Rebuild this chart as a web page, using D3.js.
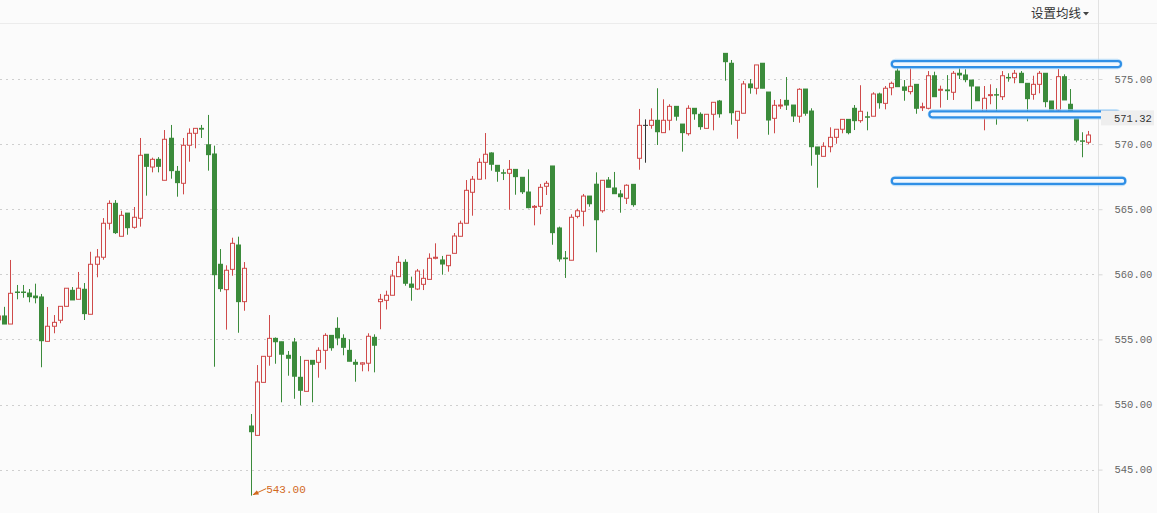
<!DOCTYPE html>
<html><head><meta charset="utf-8">
<script src="https://cdn.jsdelivr.net/npm/d3@7"></script>
<style>html,body{margin:0;padding:0;background:#fbfbfb;overflow:hidden}</style>
</head><body><svg id="c" width="1157" height="513"></svg>
<script>
const opens = [556.5,556.8,556.18,558.64,558.64,558.56,558.33,558.26,554.85,556.01,556.47,557.54,558.77,558.08,558.85,556.93,560.77,561.31,563.92,565.45,562.92,564.7,563.61,564.3,569.22,568.24,568.83,567.22,570.45,567.91,566.99,569.91,570.83,571.21,569.95,569.24,560.77,558.82,560.38,562.25,557.9,548.35,547.63,551.7,553.7,555.08,554.82,553.78,554.8,552.09,551.01,553.39,553.24,554.16,555.31,555.85,555.08,554.16,553.24,553.1,553.17,555.16,557.9,558.0,558.39,559.82,560.92,559.25,558.87,559.23,559.61,561.23,561.1,560.66,561.61,562.92,563.92,566.3,567.3,568.6,569.32,568.37,567.8,567.76,568.06,567.45,566.32,565.18,565.22,566.76,568.32,563.56,561.25,561.08,564.45,564.84,566.01,566.92,564.88,567.24,566.63,566.17,565.84,566.91,568.91,571.44,571.44,571.83,570.88,571.83,572.9,571.54,570.8,572.75,572.29,571.21,572.29,573.31,576.97,576.21,571.83,572.37,574.62,574.29,576.21,574.0,571.98,572.98,573.36,573.0,572.14,574.23,572.54,569.78,569.06,569.8,570.52,571.14,571.9,572.75,571.8,572.1,572.14,573.85,573.13,574.33,575.61,574.39,574.03,574.59,572.8,572.75,575.25,574.15,574.16,573.98,575.44,575.31,574.92,574.39,572.03,573.75,573.8,573.64,575.12,575.1,575.44,574.67,573.82,574.59,575.44,573.31,572.62,575.18,573.06,572.03,570.25,570.14];
const highs = [556.8,557.5,561.1,559.18,559.18,558.87,559.28,558.49,557.49,556.87,557.54,558.93,559.02,560.18,559.33,561.73,561.94,564.32,565.68,565.7,564.88,564.7,565.17,570.47,569.22,568.96,569.0,571.08,571.47,568.32,570.47,571.21,571.21,571.47,572.24,569.88,561.94,560.69,562.81,562.89,560.94,549.27,553.03,553.7,556.87,555.15,554.82,554.11,555.11,553.72,553.39,553.39,554.39,555.47,555.31,556.7,555.39,555.0,553.47,553.25,555.47,555.39,558.49,558.74,560.33,561.41,561.15,559.82,560.41,560.38,561.61,562.38,561.41,561.46,563.17,564.12,567.24,567.55,568.91,570.85,569.37,568.37,568.06,568.78,568.06,567.45,568.06,565.32,566.94,567.17,568.32,563.66,561.79,564.61,565.04,566.17,566.01,567.83,567.22,567.47,567.86,566.47,566.91,566.91,572.7,571.9,572.75,574.29,573.44,573.06,572.9,571.54,572.98,572.75,572.44,572.29,573.21,573.39,576.97,576.46,572.52,574.85,575.0,576.08,576.21,574.0,573.39,573.46,575.15,573.0,574.29,574.23,572.75,569.78,570.14,571.29,571.14,571.9,571.9,573.0,574.52,572.49,573.98,573.95,574.46,574.8,575.87,574.92,575.87,574.59,573.18,575.61,575.56,574.49,575.3,575.61,576.02,575.75,574.92,574.39,574.46,574.59,574.29,575.61,575.44,575.69,575.61,574.67,575.25,575.61,575.44,573.31,575.77,575.36,574.23,572.3,570.91,571.01];
const lows = [556.5,556.18,556.18,558.08,558.2,557.85,557.77,552.86,554.85,555.47,556.24,557.54,558.03,558.08,556.49,556.93,559.77,561.12,563.43,563.1,562.92,563.04,563.5,563.66,566.04,567.83,567.83,567.22,567.34,565.96,566.14,568.65,569.68,570.47,567.96,552.9,558.66,555.75,559.89,555.51,557.2,543.0,547.63,551.7,552.98,553.13,550.17,552.21,550.44,549.94,551.01,550.17,552.06,552.7,554.13,554.55,553.78,553.32,551.75,552.55,552.55,552.47,555.78,557.3,558.39,559.82,559.12,557.97,558.79,558.79,559.61,561.15,559.97,560.2,561.61,562.92,563.92,564.5,567.3,567.3,567.96,567.11,567.24,564.96,566.11,566.17,565.07,563.76,564.61,566.09,562.27,560.97,559.72,561.08,564.3,563.69,565.19,561.69,564.73,566.68,566.19,564.73,565.4,565.19,568.03,568.57,571.18,569.93,570.88,571.06,571.8,569.42,570.65,571.87,571.1,571.21,571.06,572.03,574.87,571.49,570.41,572.37,573.87,573.82,574.29,570.72,570.83,572.7,572.62,571.7,571.64,572.18,568.34,566.65,569.06,569.37,570.03,570.83,570.75,571.08,571.64,571.06,572.14,572.72,572.67,573.75,574.41,573.33,573.82,572.33,572.54,572.67,573.64,572.8,573.39,573.39,575.0,574.75,572.62,573.33,571.06,573.06,571.49,573.39,574.79,574.67,574.72,571.75,573.41,573.9,572.83,572.62,572.18,573.39,571.98,570.14,568.99,569.98];
const closes = [556.8,556.18,558.54,558.62,558.62,558.28,558.2,554.9,556.01,556.31,557.54,558.93,558.03,558.93,556.98,560.77,561.33,563.92,565.45,563.2,564.53,563.58,564.38,569.14,568.29,568.83,568.29,570.37,567.96,567.04,569.91,570.83,571.21,571.15,569.19,559.97,558.9,560.31,562.38,557.9,560.46,547.91,551.73,553.7,555.08,554.82,553.86,553.55,552.17,551.09,553.39,553.09,554.16,555.31,554.36,555.11,554.39,553.32,553.09,553.2,555.24,554.55,558.08,558.39,559.87,560.92,559.31,559.0,560.25,559.69,561.23,561.31,560.79,561.46,562.94,563.92,566.45,567.3,568.6,569.22,568.45,567.91,567.78,568.06,567.5,566.34,565.12,565.22,566.68,566.99,563.2,561.18,561.2,564.38,564.88,566.01,565.42,564.19,567.22,566.68,566.19,565.96,566.84,565.35,571.44,571.44,571.83,570.95,571.83,572.9,572.14,570.88,572.75,572.33,571.34,572.29,573.21,572.33,576.33,572.41,572.52,574.62,574.33,576.08,574.29,571.85,572.98,573.0,573.0,572.16,574.21,572.37,569.8,569.22,569.83,570.52,571.14,571.9,570.88,571.8,572.52,572.06,573.85,573.18,574.29,574.67,574.41,574.13,574.44,572.75,572.87,575.25,573.64,574.21,574.1,575.44,575.31,574.95,574.46,573.33,573.52,573.8,573.77,575.25,575.08,575.44,574.72,573.49,574.59,575.44,573.26,572.62,575.18,573.39,572.37,570.31,570.24,570.7];
const yTicks = [545, 550, 555, 560, 565, 570, 575];
const priceLabel = 571.32;
const lowMark = {index: 41, value: 543.00, text: "543.00"};
const hLines = [
  {value: 576.15, from: 145.1, to: 182.3},
  {value: 572.29, from: 151.2, to: 182.1},
  {value: 567.17, from: 145.1, to: 183.0}
];
const menuText = "设置均线";

const svg = d3.select("#c");
const W = 1157, H = 513, axisX = 1098;
const x = d3.scaleLinear().domain([0, opens.length - 1]).range([-1.9, 1088.3]);
const y = d3.scaleLinear().domain([545, 575]).range([469.6, 79]);
const RED = "#cf4a4a", GREEN = "#3b8b3b", BG = "#fbfbfb";

svg.append("rect").attr("width", W).attr("height", H).attr("fill", BG);
svg.append("line").attr("x1", 0).attr("x2", W).attr("y1", 23.5).attr("y2", 23.5).attr("stroke", "#ececec");
svg.append("g").selectAll("line").data(yTicks).join("line")
  .attr("x1", 0).attr("x2", axisX).attr("y1", d => Math.round(y(d)) + 0.5).attr("y2", d => Math.round(y(d)) + 0.5)
  .attr("stroke", "#cfcfcf").attr("stroke-dasharray", "2,4");
svg.append("line").attr("x1", axisX + 0.5).attr("x2", axisX + 0.5).attr("y1", 0).attr("y2", H).attr("stroke", "#e2e2e2");
const yAxis = d3.axisRight(y).tickValues(yTicks).tickSize(4).tickPadding(12).tickFormat(d3.format(".2f"));
const ga = svg.append("g").attr("transform", `translate(${axisX + 0.5},0)`).call(yAxis);
ga.select(".domain").remove();
ga.selectAll(".tick line").attr("stroke", "#d8d8d8");
ga.selectAll(".tick text").attr("fill", "#666").attr("font-family", "Liberation Mono, DejaVu Sans Mono, monospace").attr("font-size", 10.5);

const idx = d3.range(opens.length);
const color = i => closes[i] > opens[i] ? RED : (closes[i] < opens[i] ? GREEN : "#333");
const cx = i => Math.round(x(i));
const g = svg.append("g");
g.selectAll("line").data(idx).join("line")
  .attr("x1", i => cx(i) + 0.5).attr("x2", i => cx(i) + 0.5)
  .attr("y1", i => y(highs[i])).attr("y2", i => y(lows[i]))
  .attr("stroke", color).attr("stroke-width", 1);
g.selectAll("rect").data(idx).join("rect")
  .each(function(i) {
    const top = y(Math.max(opens[i], closes[i])), bot = y(Math.min(opens[i], closes[i]));
    const s = d3.select(this);
    if (closes[i] > opens[i]) {
      s.attr("x", cx(i) - 1.5).attr("width", 4).attr("y", top).attr("height", Math.max(1, bot - top))
       .attr("fill", BG).attr("stroke", RED).attr("stroke-width", 1);
    } else if (closes[i] < opens[i]) {
      s.attr("x", cx(i) - 2).attr("width", 5).attr("y", top - 0.5).attr("height", Math.max(1.5, bot - top + 1))
       .attr("fill", GREEN);
    } else {
      s.attr("x", cx(i) - 2).attr("width", 5).attr("y", top - 0.5).attr("height", 1).attr("fill", "#333");
    }
  });

const lx = x(lowMark.index) + 0.5, ly = y(lowMark.value);
svg.append("defs").append("marker").attr("id", "ah").attr("viewBox", "0 0 10 10").attr("refX", 9).attr("refY", 5)
  .attr("markerWidth", 6).attr("markerHeight", 6).attr("orient", "auto")
  .append("path").attr("d", "M0,1 L10,5 L0,9 z").attr("fill", "#d2691e");
svg.append("line").attr("x1", lx + 15).attr("y1", ly - 7).attr("x2", lx + 2).attr("y2", ly - 1)
  .attr("stroke", "#d2691e").attr("stroke-width", 1).attr("marker-end", "url(#ah)");
svg.append("text").attr("x", lx + 15).attr("y", ly - 3).text(lowMark.text)
  .attr("fill", "#d2691e").attr("font-family", "Liberation Mono, DejaVu Sans Mono, monospace").attr("font-size", 11);

const hg = svg.append("g");
hLines.forEach(l => {
  const x0 = x(l.from), x1 = x(l.to), yy = y(l.value);
  hg.append("rect").attr("x", x0 - 1).attr("y", yy - 4.5).attr("width", x1 - x0 + 2).attr("height", 9).attr("rx", 4.5)
    .attr("fill", "none").attr("stroke", "#a9d5f8").attr("stroke-width", 1.5).attr("opacity", 0.7);
  hg.append("rect").attr("x", x0).attr("y", yy - 3).attr("width", x1 - x0).attr("height", 6).attr("rx", 3)
    .attr("fill", "#f2f8fe").attr("stroke", "#2f8fe6").attr("stroke-width", 2.2);
});

const py = y(priceLabel) - 9;
svg.append("rect").attr("x", axisX + 3).attr("y", py - 7.5).attr("width", 53).attr("height", 15).attr("fill", "#eeeeee");
svg.append("text").attr("x", axisX + 16).attr("y", py + 4).text(priceLabel.toFixed(2))
  .attr("fill", "#333").attr("font-family", "Liberation Mono, DejaVu Sans Mono, monospace").attr("font-size", 10.5);

svg.append("text").attr("x", 1031).attr("y", 18).text(menuText)
  .attr("fill", "#333").attr("font-family", "Noto Sans CJK SC, sans-serif").attr("font-size", 12.5);
svg.append("path").attr("d", "M1083,12 L1089,12 L1086,15.5 z").attr("fill", "#444");
</script></body></html>
